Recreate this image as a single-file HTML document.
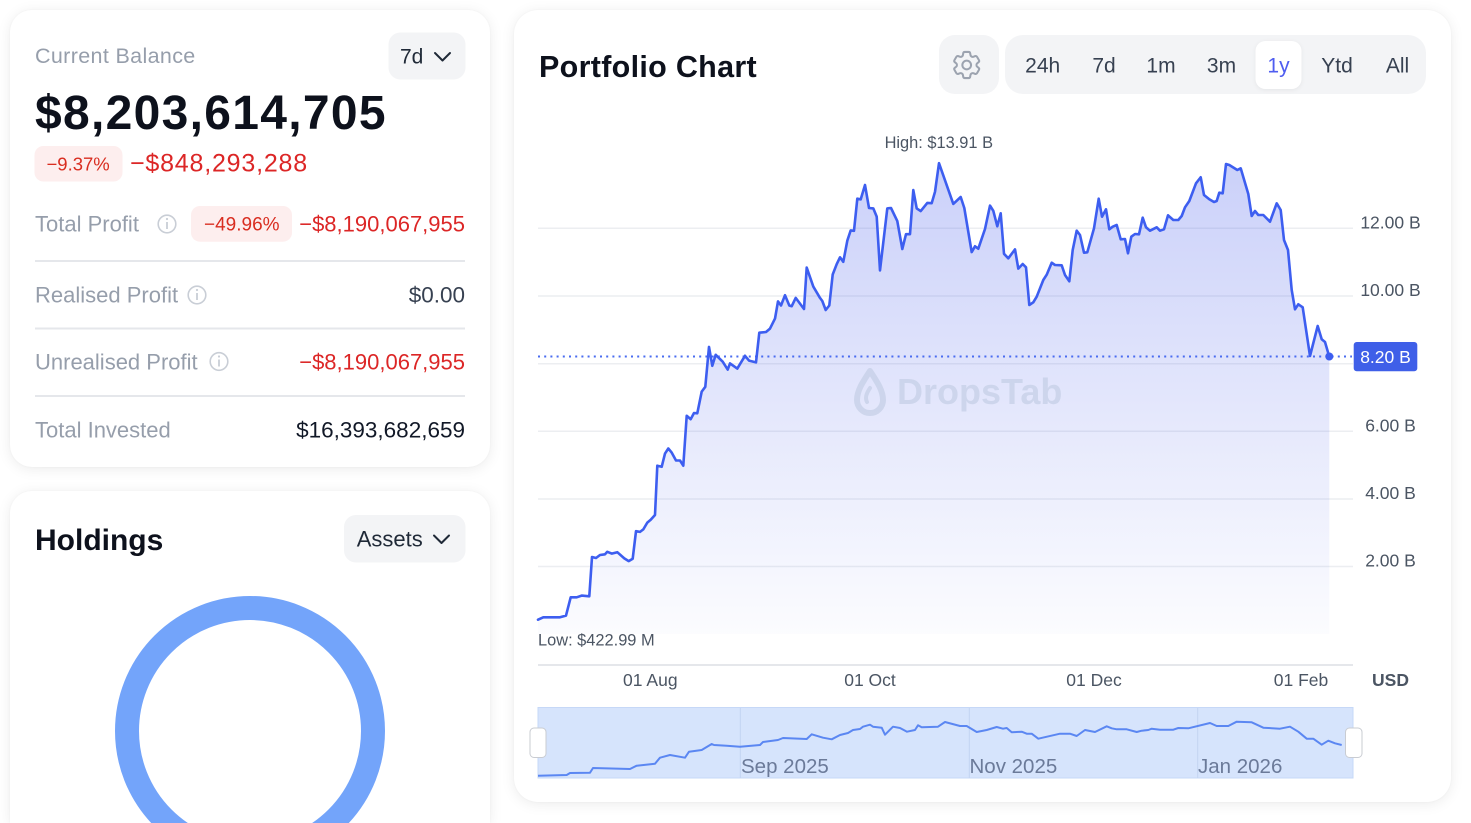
<!DOCTYPE html>
<html><head><meta charset="utf-8">
<style>
html,body{margin:0;padding:0;background:#fff;width:1471px;height:823px;overflow:hidden;font-family:"Liberation Sans",sans-serif;}
.card{position:absolute;background:#fff;border-radius:22px;box-shadow:0 2px 14px rgba(0,0,0,0.08),0 0 2px rgba(0,0,0,0.04);}
svg{position:absolute;left:0;top:0;}
</style></head><body>
<div class="card" style="left:10px;top:10px;width:480px;height:457px;"></div>
<div class="card" style="left:10px;top:491px;width:480px;height:332px;border-radius:22px 22px 0 0;"></div>
<div class="card" style="left:514px;top:10px;width:937px;height:792px;border-radius:24px;"></div>

<svg width="1471" height="823" viewBox="0 0 1471 823" xmlns="http://www.w3.org/2000/svg" font-family="Liberation Sans, sans-serif">
<defs>
<linearGradient id="af" x1="0" y1="163" x2="0" y2="634" gradientUnits="userSpaceOnUse">
<stop offset="0" stop-color="rgb(80,100,235)" stop-opacity="0.30"/>
<stop offset="1" stop-color="rgb(80,100,235)" stop-opacity="0.02"/>
</linearGradient>
</defs>

<!-- LEFT CARD 1 -->
<text x="35" y="63" font-size="21.5" letter-spacing="0.35" fill="#969eab">Current Balance</text>
<rect x="388.5" y="32.5" width="77" height="47" rx="12" fill="#f3f4f6"/>
<text x="400" y="63.3" font-size="21" fill="#1f2937">7d</text>
<polyline points="435,53 442.5,60.5 450,53" fill="none" stroke="#1f2937" stroke-width="2" stroke-linecap="round" stroke-linejoin="round"/>
<text x="35" y="129" font-size="48" font-weight="bold" letter-spacing="1.3" fill="#0d111c">$8,203,614,705</text>
<rect x="34.5" y="146" width="88" height="35.5" rx="9" fill="#fdeeee"/>
<text x="46.5" y="170.7" font-size="18.5" fill="#d92d20">−9.37%</text>
<text x="130" y="171.7" font-size="25" letter-spacing="0.8" fill="#dc2626">−$848,293,288</text>

<text x="35" y="231.7" font-size="22" fill="#969eab">Total Profit</text>
<circle cx="167" cy="224" r="8.8" fill="none" stroke="#c9ced6" stroke-width="1.6"/>
<line x1="167" y1="222" x2="167" y2="229" stroke="#c9ced6" stroke-width="1.8"/>
<circle cx="167" cy="219" r="1.1" fill="#c9ced6"/>
<rect x="191" y="206" width="101" height="35.7" rx="9" fill="#fdeeee"/>
<text x="204" y="230.5" font-size="19" fill="#d92d20">−49.96%</text>
<text x="465" y="231.7" font-size="22" text-anchor="end" fill="#dc2626">−$8,190,067,955</text>
<line x1="35" y1="261" x2="465" y2="261" stroke="#e5e7eb" stroke-width="2"/>

<text x="35" y="302.7" font-size="22" fill="#969eab">Realised Profit</text>
<circle cx="197" cy="295" r="8.8" fill="none" stroke="#c9ced6" stroke-width="1.6"/>
<line x1="197" y1="293" x2="197" y2="300" stroke="#c9ced6" stroke-width="1.8"/>
<circle cx="197" cy="290" r="1.1" fill="#c9ced6"/>
<text x="465" y="302.7" font-size="22.5" text-anchor="end" fill="#374151">$0.00</text>
<line x1="35" y1="328.5" x2="465" y2="328.5" stroke="#e5e7eb" stroke-width="2"/>

<text x="35" y="369.3" font-size="22" fill="#969eab">Unrealised Profit</text>
<circle cx="219" cy="361.5" r="8.8" fill="none" stroke="#c9ced6" stroke-width="1.6"/>
<line x1="219" y1="359.5" x2="219" y2="366.5" stroke="#c9ced6" stroke-width="1.8"/>
<circle cx="219" cy="356.5" r="1.1" fill="#c9ced6"/>
<text x="465" y="369.3" font-size="22" text-anchor="end" fill="#dc2626">−$8,190,067,955</text>
<line x1="35" y1="396" x2="465" y2="396" stroke="#e5e7eb" stroke-width="2"/>

<text x="35" y="437.3" font-size="22" fill="#969eab">Total Invested</text>
<text x="465" y="437.3" font-size="22.5" text-anchor="end" fill="#111827">$16,393,682,659</text>

<!-- LEFT CARD 2 -->
<text x="35" y="550" font-size="30" font-weight="bold" fill="#0d111c">Holdings</text>
<rect x="344" y="515" width="121.5" height="47.5" rx="12" fill="#f3f4f6"/>
<text x="356.7" y="546.7" font-size="22" fill="#1f2937">Assets</text>
<polyline points="434,535.5 441.5,543 449,535.5" fill="none" stroke="#1f2937" stroke-width="2" stroke-linecap="round" stroke-linejoin="round"/>
<circle cx="250" cy="731" r="123" fill="none" stroke="#73a4fa" stroke-width="24"/>

<!-- RIGHT CARD header -->
<text x="539" y="77" font-size="30.5" font-weight="bold" letter-spacing="0.3" fill="#0d111c">Portfolio Chart</text>
<rect x="939" y="35" width="60" height="59" rx="16" fill="#f3f4f6"/>
<g transform="translate(949.3,47.6) scale(1.45)" fill="none" stroke="#9ca3af" stroke-width="1.4" stroke-linejoin="round">
<path d="M9.594 3.94c.09-.542.56-.94 1.11-.94h2.593c.55 0 1.02.398 1.11.94l.213 1.281c.063.374.313.686.645.87.074.04.147.083.22.127.325.196.72.257 1.075.124l1.217-.456a1.125 1.125 0 0 1 1.37.49l1.296 2.247a1.125 1.125 0 0 1-.26 1.431l-1.003.827c-.293.241-.438.613-.43.992a7.723 7.723 0 0 1 0 .255c-.008.378.137.75.43.991l1.004.827c.424.35.534.955.26 1.43l-1.298 2.247a1.125 1.125 0 0 1-1.369.491l-1.217-.456c-.355-.133-.75-.072-1.076.124a6.47 6.47 0 0 1-.22.128c-.331.183-.581.495-.644.869l-.213 1.281c-.09.543-.56.94-1.11.94h-2.594c-.55 0-1.019-.398-1.110-.94l-.213-1.281c-.062-.374-.312-.686-.644-.87a6.52 6.52 0 0 1-.22-.127c-.325-.196-.72-.257-1.076-.124l-1.217.456a1.125 1.125 0 0 1-1.369-.49l-1.297-2.247a1.125 1.125 0 0 1 .26-1.431l1.004-.827c.292-.24.437-.613.43-.991a6.932 6.932 0 0 1 0-.255c.007-.38-.138-.751-.43-.992l-1.004-.827a1.125 1.125 0 0 1-.26-1.43l1.297-2.247a1.125 1.125 0 0 1 1.37-.491l1.216.456c.356.133.751.072 1.076-.124.072-.044.146-.086.22-.128.332-.183.582-.495.644-.869l.214-1.28Z"/>
<circle cx="12" cy="12" r="3"/>
</g>
<rect x="1005" y="35" width="421" height="59" rx="18" fill="#f3f4f6"/>
<rect x="1255.5" y="41" width="46" height="48" rx="10" fill="#ffffff" style="filter:drop-shadow(0 1px 2px rgba(0,0,0,0.06))"/>
<g font-size="21" fill="#374151" text-anchor="middle">
<text x="1042.7" y="72.5">24h</text>
<text x="1104" y="72.5">7d</text>
<text x="1161" y="72.5">1m</text>
<text x="1221.5" y="72.5">3m</text>
<text x="1278.5" y="72.5" fill="#4f5df0">1y</text>
<text x="1337" y="72.5">Ytd</text>
<text x="1397.5" y="72.5">All</text>
</g>

<!-- grid -->
<g stroke="#eceef1" stroke-width="1.5">
<line x1="538" y1="228.3" x2="1353" y2="228.3"/>
<line x1="538" y1="296" x2="1353" y2="296"/>
<line x1="538" y1="363.7" x2="1353" y2="363.7"/>
<line x1="538" y1="431.3" x2="1353" y2="431.3"/>
<line x1="538" y1="499" x2="1353" y2="499"/>
<line x1="538" y1="566.5" x2="1353" y2="566.5"/>
</g>
<g font-size="17.5" fill="#4b5563" text-anchor="middle">
<text x="1390.5" y="228.3">12.00 B</text>
<text x="1390.5" y="296">10.00 B</text>
<text x="1390.5" y="431.3">6.00 B</text>
<text x="1390.5" y="499">4.00 B</text>
<text x="1390.5" y="566.5">2.00 B</text>
</g>

<!-- area fill -->
<polygon fill="url(#af)" points="538,619.7 543.3,617.3 560,617.3 566,615.6 570.7,597.3 576.7,597.3 581.7,595.6 589.3,596.3 592,557 596,558 600,555 605,554.3 607.3,551.8 611.7,553.6 617.3,552.2 624.3,558.4 628.7,561.1 632.7,558.7 636,531.2 640,531.9 643.3,529.4 647.3,522.6 650.7,519.8 655,515 657.3,465.7 661.7,466.8 665,453.6 668.3,448.5 671.7,452.6 676,460.5 680,460.5 683.3,465.7 686.7,415.8 690.7,419.2 694,413 697.3,413.3 701.7,391.6 705.3,386.8 709,346.9 712.3,365.8 715.7,354.8 722.7,361.7 727.7,369.6 730,363.4 737.3,368.6 745,355.8 749,360.6 756,362.4 759.3,332.7 766,332 770,328.6 775,318.6 778,301.4 781,305.5 785,295.2 789.3,305.5 791.7,306.2 795.7,297.9 804,309 806.7,267.6 813.3,286.6 820,297.9 822.3,301 825.7,310 829.3,305.5 832.7,274.5 836.7,264.2 840,257.3 843.3,261.8 847.3,240.7 850.7,230.4 854,230.8 857.3,198.7 860.7,199.4 865,185 869,208 873.3,208.4 876.7,216.6 880,270.4 887.3,208.4 891,208 897.3,221.1 902.3,249 906,234.2 910,234.2 913.3,190.1 916.7,208.4 920.7,211.1 927.3,202.9 931.7,203.2 935,191.8 939,163.2 953.3,203.9 960.7,197 964.3,208 971.7,252.1 975,246.3 978.3,248.7 985,229 990,205.6 993.3,210.8 997.3,226.3 1000.7,213.3 1004,253.8 1008.3,258.3 1015,249.4 1018.3,268.6 1022.7,264 1026,267.3 1029.3,305 1033.3,302.3 1036.7,296.7 1043.3,280 1046.7,274.7 1051.7,262.7 1055,265 1061.7,265.3 1065,275 1069.3,281.3 1072.7,250 1076.7,230.7 1080,235 1084,252.7 1087.3,252.3 1094,228.3 1098.7,198.7 1102,216.7 1106,209.3 1109.3,229.3 1112.7,226.7 1116.7,225 1120.7,239.3 1125,239 1128,253.3 1131.3,236.7 1135,234 1139,234.3 1142.7,217.7 1146,227.3 1150,230.7 1156.7,227.3 1160,230.7 1164,229.3 1168,215.3 1173.3,220 1178.3,220 1181.7,216 1185,207.3 1189.3,201 1196,183.3 1200.7,177.3 1204,195 1209.3,199.3 1214,202 1216.7,201 1219.3,192.7 1222.7,193.3 1226,164 1229.3,165 1237.3,170 1240.7,168.3 1248.3,194 1251.7,216 1255,211 1258.3,215 1263.3,215 1270,221.7 1276.7,203.3 1280.7,210 1284,240 1288,250 1291.7,290 1295,309.3 1298.3,304.3 1302.7,307.3 1310,356 1317.7,326 1321.7,339.3 1325,342 1329.3,356.7 1329.3,634 538,634"/>

<!-- watermark -->
<g opacity="0.55">
<path d="M870,371 C862,383 857,391 857,400 A13,13 0 0 0 883,400 C883,391 878,383 870,371 Z" fill="none" stroke="#bcc8e0" stroke-width="6" stroke-linejoin="round"/>
<path d="M870,388 C866,394 865,398 867,402" fill="none" stroke="#bcc8e0" stroke-width="4" stroke-linecap="round"/>
<text x="897" y="404" font-size="36" font-weight="bold" fill="#bcc8e0">DropsTab</text>
</g>

<!-- dotted current line -->
<line x1="538" y1="356.5" x2="1352" y2="356.5" stroke="#4a6cf0" stroke-width="2" stroke-dasharray="2 4.2"/>

<!-- main line -->
<polyline fill="none" stroke="#3d5ef0" stroke-width="2.6" stroke-linejoin="round" stroke-linecap="round" points="538,619.7 543.3,617.3 560,617.3 566,615.6 570.7,597.3 576.7,597.3 581.7,595.6 589.3,596.3 592,557 596,558 600,555 605,554.3 607.3,551.8 611.7,553.6 617.3,552.2 624.3,558.4 628.7,561.1 632.7,558.7 636,531.2 640,531.9 643.3,529.4 647.3,522.6 650.7,519.8 655,515 657.3,465.7 661.7,466.8 665,453.6 668.3,448.5 671.7,452.6 676,460.5 680,460.5 683.3,465.7 686.7,415.8 690.7,419.2 694,413 697.3,413.3 701.7,391.6 705.3,386.8 709,346.9 712.3,365.8 715.7,354.8 722.7,361.7 727.7,369.6 730,363.4 737.3,368.6 745,355.8 749,360.6 756,362.4 759.3,332.7 766,332 770,328.6 775,318.6 778,301.4 781,305.5 785,295.2 789.3,305.5 791.7,306.2 795.7,297.9 804,309 806.7,267.6 813.3,286.6 820,297.9 822.3,301 825.7,310 829.3,305.5 832.7,274.5 836.7,264.2 840,257.3 843.3,261.8 847.3,240.7 850.7,230.4 854,230.8 857.3,198.7 860.7,199.4 865,185 869,208 873.3,208.4 876.7,216.6 880,270.4 887.3,208.4 891,208 897.3,221.1 902.3,249 906,234.2 910,234.2 913.3,190.1 916.7,208.4 920.7,211.1 927.3,202.9 931.7,203.2 935,191.8 939,163.2 953.3,203.9 960.7,197 964.3,208 971.7,252.1 975,246.3 978.3,248.7 985,229 990,205.6 993.3,210.8 997.3,226.3 1000.7,213.3 1004,253.8 1008.3,258.3 1015,249.4 1018.3,268.6 1022.7,264 1026,267.3 1029.3,305 1033.3,302.3 1036.7,296.7 1043.3,280 1046.7,274.7 1051.7,262.7 1055,265 1061.7,265.3 1065,275 1069.3,281.3 1072.7,250 1076.7,230.7 1080,235 1084,252.7 1087.3,252.3 1094,228.3 1098.7,198.7 1102,216.7 1106,209.3 1109.3,229.3 1112.7,226.7 1116.7,225 1120.7,239.3 1125,239 1128,253.3 1131.3,236.7 1135,234 1139,234.3 1142.7,217.7 1146,227.3 1150,230.7 1156.7,227.3 1160,230.7 1164,229.3 1168,215.3 1173.3,220 1178.3,220 1181.7,216 1185,207.3 1189.3,201 1196,183.3 1200.7,177.3 1204,195 1209.3,199.3 1214,202 1216.7,201 1219.3,192.7 1222.7,193.3 1226,164 1229.3,165 1237.3,170 1240.7,168.3 1248.3,194 1251.7,216 1255,211 1258.3,215 1263.3,215 1270,221.7 1276.7,203.3 1280.7,210 1284,240 1288,250 1291.7,290 1295,309.3 1298.3,304.3 1302.7,307.3 1310,356 1317.7,326 1321.7,339.3 1325,342 1329.3,356.7"/>
<circle cx="1329.3" cy="356.5" r="4" fill="#3d5ef0"/>

<!-- current value badge -->
<rect x="1353.7" y="342" width="63.6" height="29.3" rx="3" fill="#3f5fe8"/>
<text x="1385.5" y="363" font-size="17.5" fill="#ffffff" text-anchor="middle">8.20 B</text>

<!-- high / low -->
<text x="938.8" y="148" font-size="16.4" fill="#4b5563" text-anchor="middle">High: $13.91 B</text>
<text x="538" y="645.5" font-size="16.4" fill="#4b5563">Low: $422.99 M</text>

<!-- x axis -->
<line x1="538" y1="665" x2="1353" y2="665" stroke="#e5e7eb" stroke-width="2"/>
<g font-size="17.5" fill="#4b5563" text-anchor="middle">
<text x="650.3" y="686">01 Aug</text>
<text x="870" y="686">01 Oct</text>
<text x="1094" y="686">01 Dec</text>
<text x="1301" y="686">01 Feb</text>
<text x="1390.5" y="686" font-weight="bold">USD</text>
</g>

<!-- data zoom -->
<rect x="538" y="707.5" width="815" height="70.5" fill="#d6e4fc" stroke="#c6d8f7" stroke-width="1"/>
<g stroke="#c3d4f1" stroke-width="1">
<line x1="740.3" y1="708" x2="740.3" y2="778"/>
<line x1="969.3" y1="708" x2="969.3" y2="778"/>
<line x1="1197.7" y1="708" x2="1197.7" y2="778"/>
</g>
<polyline fill="none" stroke="#5b87f2" stroke-width="2" stroke-linejoin="round" points="538,775.7 566.7,775 570,773 590,772.7 593,768 630,769 636.7,765.7 655,763.7 660,757.7 670,755 685,757.7 689,751.7 701.7,750 711.7,744 714,745 726.7,745.7 740,746.7 760,745 763,742 778,740 783,738 806.7,739 811.7,734.3 823,737.7 831.7,739.3 840,735 848,733 853,730 860,729 863,726.7 870,724.7 873,726.7 881.7,727.7 885,734.7 893,726.7 900,728 907,731.7 915,730 918,725.3 921.7,727.3 938,726.7 945,722 960,726 966.7,726 976.7,732 986.7,730 996.7,727 1003,728.7 1006.7,728 1011.7,732.3 1021.7,731.7 1026.7,733.7 1031.7,733.7 1038.3,738.7 1060,733.7 1070,733.7 1076.7,736 1085,730 1095,732 1106.7,726.3 1111.7,728.3 1116.7,729.3 1126.7,729.3 1136.7,732 1141.7,730.7 1148.3,730 1151.7,728.7 1160,729.7 1173.3,729.7 1178.3,728 1188.3,728.3 1210,723 1216.7,726 1228.3,726 1236.7,721.7 1251.7,722.3 1263.3,727.7 1280,728.7 1290,726.7 1298.3,731.7 1306.7,738.7 1313.3,738.7 1321.7,744.7 1328.3,740.7 1335,743.3 1341.7,745"/>
<g font-size="20.5" fill="#6b7a99">
<text x="741" y="773">Sep 2025</text>
<text x="969.5" y="773">Nov 2025</text>
<text x="1198" y="773">Jan 2026</text>
</g>
<rect x="530" y="728" width="16" height="29.5" rx="4" fill="#ffffff" stroke="#c9ccd2" stroke-width="1"/>
<rect x="1345.5" y="728" width="16.5" height="29.5" rx="4" fill="#ffffff" stroke="#c9ccd2" stroke-width="1"/>
</svg>
</body></html>
